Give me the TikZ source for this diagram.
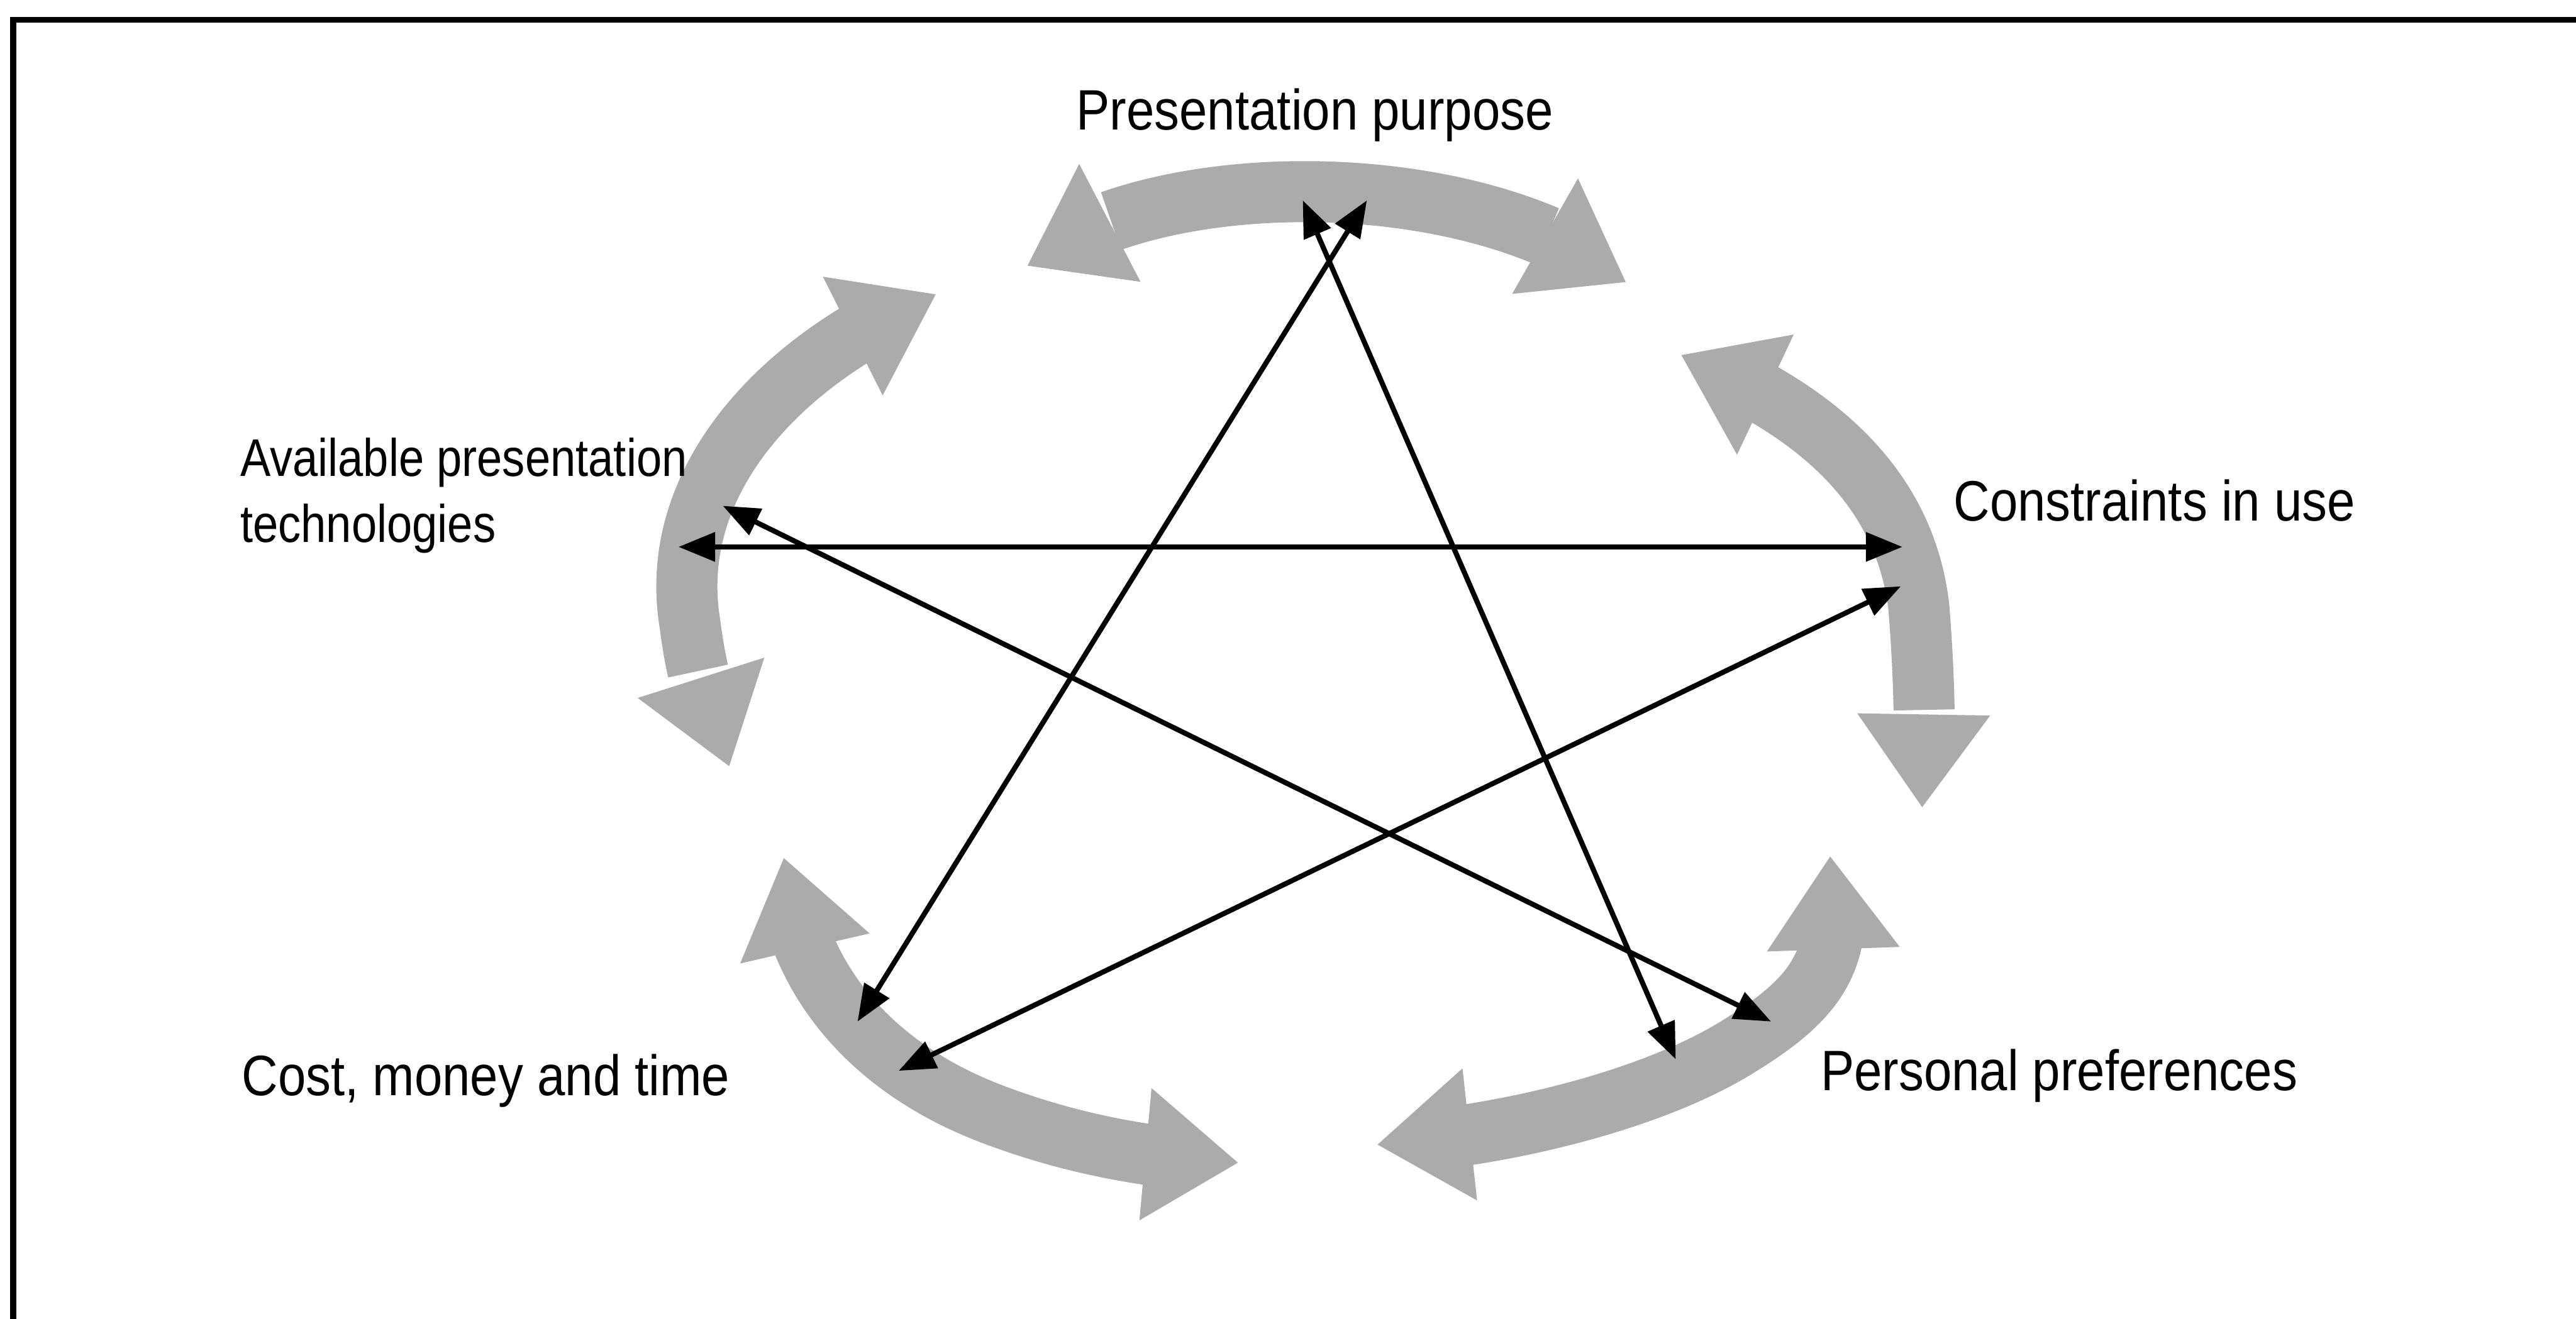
\documentclass[tikz,border=0pt]{standalone}
\usepackage{fontspec}
\newfontfamily\lblfont{Liberation Sans}[FakeStretch=0.88]
\newfontfamily\lblfontb{Liberation Sans}[FakeStretch=0.86]
\usetikzlibrary{arrows.meta,bending}
\definecolor{bandgray}{gray}{0.67}
\begin{document}
\begin{tikzpicture}[x=0.02836cm,y=-0.02836cm,
  band/.style={draw=bandgray, line width=30pt,
    {Triangle[width=62pt,length=46pt]}-{Triangle[width=62pt,length=46pt]}},
  link/.style={draw=black, line width=2.5pt,
    {Triangle[width=14pt,length=18pt]}-{Triangle[width=14pt,length=18pt]}},
  lbl/.style={font=\lblfont\fontsize{28}{34}\selectfont, inner sep=0pt, anchor=base west},
  lblb/.style={font=\lblfontb\fontsize{26}{32}\selectfont, inner sep=0pt, anchor=base west},
  frame/.style={draw=black, line width=3pt}
]
\useasboundingbox (0,0) rectangle (1568,803);

% frame (top and left edges only)
\coordinate (fbl) at (8,803);
\coordinate (ftl) at (8,12);
\coordinate (ftr) at (1568,12);
\draw[frame] (fbl) -- (ftl) -- (ftr);

% curved grey double arrows
\draw[band] (625,162) .. controls (700,100) and (900,100) .. (990,172);
\draw[band] (570,179) .. controls (480,215) and (405,290) .. (420,380) .. controls (425,420) and (435,445) .. (444,467);
\draw[band] (1023,216) .. controls (1110,250) and (1160,300) .. (1168,370) .. controls (1172,420) and (1172,460) .. (1170,492);
\draw[band] (477,522) .. controls (482,595) and (530,650) .. (603,678) .. controls (650,696) and (700,706) .. (754,708);
\draw[band] (1114,521) .. controls (1124,580) and (1110,605) .. (1060,636) .. controls (1010,668) and (920,692) .. (838,697);

% star connector end points
\coordinate (p1) at (793,122);
\coordinate (p2) at (832,122);
\coordinate (a1) at (440,308);
\coordinate (a2) at (413,333);
\coordinate (c1) at (1158,333);
\coordinate (c2) at (1157,357);
\coordinate (k1) at (522,622);
\coordinate (k2) at (547,652);
\coordinate (f1) at (1078,622);
\coordinate (f2) at (1020,645);

\draw[link] (p1) -- (f2);
\draw[link] (p2) -- (k1);
\draw[link] (a2) -- (c1);
\draw[link] (a1) -- (f1);
\draw[link] (c2) -- (k2);

% labels
\node[lbl] (tpp) at (655,79) {Presentation purpose};
\node[lblb] (tav) at (146,290) {Available presentation};
\node[lblb] (tav2) at (146,330) {technologies};
\node[lbl] (tci) at (1189,317) {Constraints in use};
\node[lbl] (tcm) at (147,667) {Cost, money and time};
\node[lbl] (tpf) at (1108,664) {Personal preferences};
\end{tikzpicture}
\end{document}
